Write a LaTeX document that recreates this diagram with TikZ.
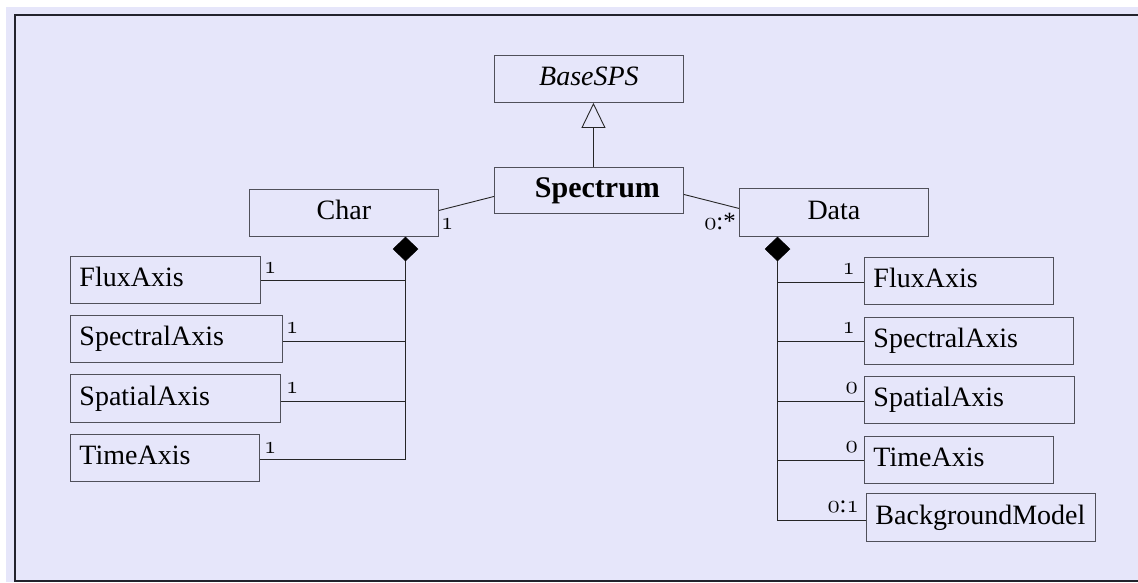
\documentclass[tikz,border=0pt]{standalone}
\usepackage{fontspec}
\setmainfont{Liberation Serif}
\usetikzlibrary{arrows.meta,shapes.geometric,calc}
\definecolor{bg}{RGB}{230,230,250}
\definecolor{boxc}{RGB}{80,80,90}
\definecolor{framec}{RGB}{35,35,45}
\newcommand\osn[1]{{\fontencoding{OML}\fontfamily{cmm}\fontseries{m}\fontshape{it}\selectfont #1}}
\begin{document}
\begin{tikzpicture}[x=1pt,y=-1pt,
  box/.style={draw=boxc, line width=0.9pt, inner ysep=0pt, anchor=north west, font=\fontsize{28}{33}\selectfont},
  lbox/.style={box, inner xsep=9pt, align=left},
  cbox/.style={box, inner xsep=4pt, align=center},
  conn/.style={draw=black!85, line width=0.9pt},
  mult/.style={inner sep=0pt, font=\fontsize{24.88}{28}\selectfont},
  dia/.style={diamond, aspect=1, fill=black, draw=black, line width=0.5pt, minimum width=25pt, minimum height=24pt, inner sep=0pt}]
\useasboundingbox (0,0) rectangle (1138,582);
\fill[white] (0,0) rectangle (1138,582);
\fill[bg] (6,7) rectangle (1138,582);
\draw[framec, line width=1.3pt] (1138,15) -- (15,15) -- (15,581) -- (1138,581);

% top classes
\node[cbox, text width=181pt, minimum height=47pt] (base) at (494,55) {\strut\textit{BaseSPS}\hspace*{12pt}};
\node[cbox, text width=181pt, minimum height=46pt] (spec) at (494,167) {\strut\hspace*{17pt}{\fontsize{30}{33}\selectfont\textbf{Spectrum}}};
\node[cbox, text width=181pt, minimum height=47pt] (char) at (249,189) {\strut Char};
\node[cbox, text width=181pt, minimum height=48pt] (data) at (739,188) {\strut Data};

% diamonds
\node[dia] (ldia) at (405.5,249) {};
\node[dia] (rdia) at (777.5,249) {};

% left parts
\node[lbox, text width=172pt, minimum height=47pt] (lflux) at (70,256) {\strut FluxAxis};
\node[lbox, text width=194pt, minimum height=47pt] (lspec) at (70,315) {\strut SpectralAxis};
\node[lbox, text width=192pt, minimum height=48pt] (lspat) at (70,374) {\strut SpatialAxis};
\node[lbox, text width=171pt, minimum height=47pt] (ltime) at (70,434) {\strut TimeAxis};

% right parts
\node[lbox, text width=171pt, minimum height=47pt] (rflux) at (864,257) {\strut FluxAxis};
\node[lbox, text width=191pt, minimum height=47pt] (rspec) at (864,317) {\strut SpectralAxis};
\node[lbox, text width=192pt, minimum height=47pt] (rspat) at (864,376) {\strut SpatialAxis};
\node[lbox, text width=171pt, minimum height=47pt] (rtime) at (864,436) {\strut TimeAxis};
\node[lbox, text width=211pt, minimum height=48pt] (rbg) at (866,493) {\strut BackgroundModel};

% generalization
\draw[conn, -{Triangle[open, width=24pt, length=25pt, line width=0.9pt]}] ([xshift=4.5pt]spec.north) -- ([xshift=4.5pt]base.south);

% associations
\draw[conn] ([yshift=2.5pt]char.east) -- ([yshift=-6pt]spec.west);
\draw[conn] ([yshift=-4pt]spec.east) -- ([yshift=4pt]data.west);

% left composition
\draw[conn] (ldia.south) |- ([yshift=-1.5pt]ltime.east);
\draw[conn] (lflux.east) -- (lflux.east -| ldia.south);
\draw[conn] ([yshift=-2.5pt]lspec.east) -- ([yshift=-2.5pt]lspec.east -| ldia.south);
\draw[conn] ([yshift=-3pt]lspat.east) -- ([yshift=-3pt]lspat.east -| ldia.south);

% right composition
\draw[conn] (rdia.south) |- ([yshift=-3pt]rbg.west);
\draw[conn] ([yshift=-1.5pt]rflux.west) -- ([yshift=-1.5pt]rflux.west -| rdia.south);
\draw[conn] (rspec.west) -- (rspec.west -| rdia.south);
\draw[conn] ([yshift=-1.5pt]rspat.west) -- ([yshift=-1.5pt]rspat.west -| rdia.south);
\draw[conn] (rtime.west) -- (rtime.west -| rdia.south);

% multiplicities
\node[mult, anchor=base west] (mc) at (441,229) {\osn{1}};
\node[mult, anchor=base east] (md) at (736,229) {\osn{0}:*};
\node[mult, anchor=base west] (ml1) at (264,273) {\osn{1}};
\node[mult, anchor=base west] (ml2) at (286,333) {\osn{1}};
\node[mult, anchor=base west] (ml3) at (286,393) {\osn{1}};
\node[mult, anchor=base west] (ml4) at (264,453) {\osn{1}};
\node[mult, anchor=base east] (mr1) at (855,274) {\osn{1}};
\node[mult, anchor=base east] (mr2) at (855,333) {\osn{1}};
\node[mult, anchor=base east] (mr3) at (858,393) {\osn{0}};
\node[mult, anchor=base east] (mr4) at (858,452) {\osn{0}};
\node[mult, anchor=base east] (mr5) at (859,512) {\osn{0}:\osn{1}};
\end{tikzpicture}
\end{document}
